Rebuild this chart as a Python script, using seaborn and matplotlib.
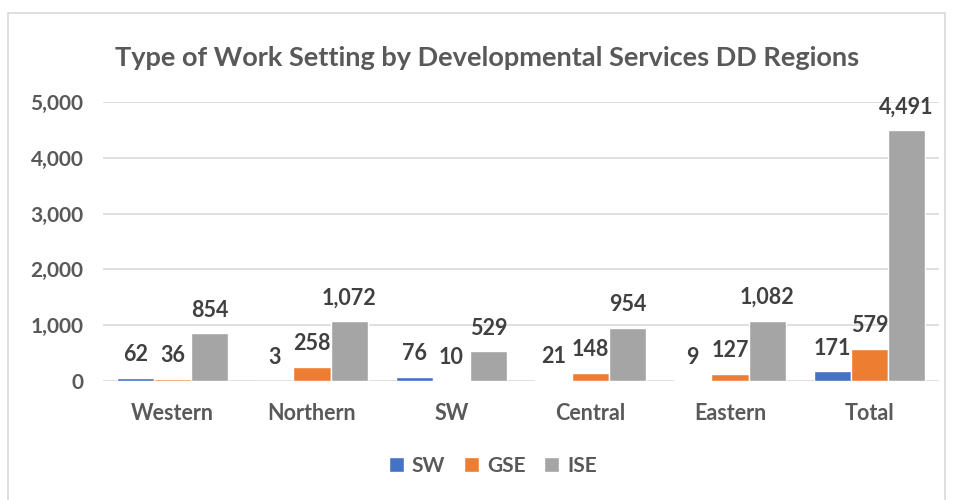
import pandas as pd
import numpy as np
import matplotlib.pyplot as plt
import seaborn as sns
from matplotlib.patches import Rectangle
from matplotlib.ticker import FuncFormatter

sns.set_theme(style="white")
plt.rcParams['font.family'] = ['Lato', 'DejaVu Sans']

## Data
regions = ["Western", "Northern", "SW", "Central", "Eastern", "Total"]
sw = [62, 3, 76, 21, 9, 171]
gse = [36, 258, 10, 148, 127, 579]
ise = [854, 1072, 529, 954, 1082, 4491]
settings = ["SW", "GSE", "ISE"]
colors = ["#4472C4", "#ED7D31", "#A5A5A5"]

data = pd.DataFrame({
    "region": regions * 3,
    "setting": [s for s in settings for _ in regions],
    "count": sw + gse + ise,
})

text_color = "#595959"

fig = plt.figure(figsize=(9.58, 5.0), dpi=100)
ax = fig.add_axes([103/958, 1 - 381/500, 836/958, 279/500])

sns.barplot(data=data, x="region", y="count", hue="setting",
            palette=colors, saturation=1, width=0.8, edgecolor="white",
            linewidth=1, ax=ax, legend=True)

ax.set_ylim(0, 5000)
ax.set_yticks(range(0, 5001, 1000))
ax.yaxis.set_major_formatter(FuncFormatter(lambda v, p: f"{int(v):,}"))
ax.grid(axis="y", color="#D9D9D9", linewidth=1.2)
ax.set_axisbelow(True)
for s in ax.spines.values():
    s.set_visible(False)
ax.set_xlabel("")
ax.set_ylabel("")
ax.tick_params(axis="y", length=0, pad=14, labelsize=15, labelcolor=text_color)
ax.tick_params(axis="x", length=0, pad=16, labelsize=15.5, labelcolor=text_color)
for lbl in ax.get_xticklabels() + ax.get_yticklabels():
    lbl.set_fontweight("bold")

# value labels
for cont in ax.containers:
    labels = [f"{int(b.get_height()):,}" for b in cont]
    ax.bar_label(cont, labels=labels, padding=9, fontsize=15.5,
                 fontweight="bold", color="#404040")

fig.text(487/958, 1 - 58/500, "Type of Work Setting by Developmental Services DD Regions",
         ha="center", va="center", fontsize=19.5, fontweight="bold", color=text_color)

leg = ax.legend(loc="center", bbox_to_anchor=((493 - 103) / 836, (381 - 466) / 279),
                ncol=3, frameon=False, fontsize=15, handlelength=0.7,
                handleheight=0.7, handletextpad=0.4, columnspacing=0.9)
for t in leg.get_texts():
    t.set_color(text_color)
    t.set_fontweight("bold")

# chart border
fig.patches.append(Rectangle((8/958, -0.1), 937/958, 1.1 - 13/500,
                             transform=fig.transFigure, fill=False,
                             edgecolor="#D9D9D9", linewidth=1.2))

fig.savefig("out.png", dpi=100)
